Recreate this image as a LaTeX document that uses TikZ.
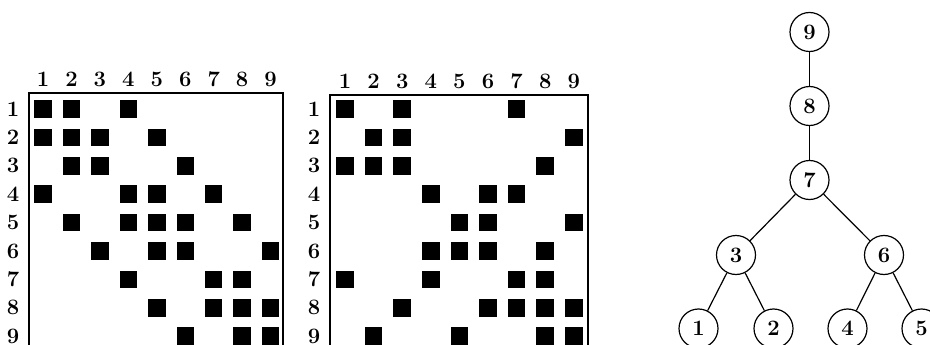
\documentclass[tikz,border=0pt]{standalone}
\usepackage{fontspec}
\begin{document}
\begin{tikzpicture}[x=1pt,y=-1pt,
  lab/.style={font=\fontsize{22}{26}\selectfont\bfseries, inner sep=0pt},
  frame/.style={line width=1.6pt},
  tn/.style={circle, draw, line width=1.2pt, minimum size=39pt, inner sep=0pt, font=\fontsize{22}{26}\selectfont\bfseries},
  edge/.style={line width=1.2pt}]
\useasboundingbox (0,0) rectangle (930,345);
% ---------- matrix 1 ----------
\draw[frame] (29,360) -- (29,93) -- (283,93) -- (283,360);
\foreach \i in {1,...,9} {
  \node[lab] (ca\i) at ({43+28.45*(\i-1)},79) {\i};
  \node[lab] (ra\i) at (13,{109+28.4*(\i-1)}) {\i};
}
\foreach \r/\cols in {1/{1,2,4},2/{1,2,3,5},3/{2,3,6},4/{1,4,5,7},5/{2,4,5,6,8},6/{3,5,6,9},7/{4,7,8},8/{5,7,8,9},9/{6,8,9}} {
  \foreach \c in \cols {
    \fill ({43+28.45*(\c-1)-8.75},{109+28.4*(\r-1)-8.75}) rectangle ++(17.5,17.5);
  }
}
% ---------- matrix 2 ----------
\draw[frame] (330,360) -- (330,95) -- (588,95) -- (588,360);
\foreach \i in {1,...,9} {
  \node[lab] (cb\i) at ({345+28.6*(\i-1)},81) {\i};
  \node[lab] (rb\i) at (314,{109+28.4*(\i-1)}) {\i};
}
\foreach \r/\cols in {1/{1,3,7},2/{2,3,9},3/{1,2,3,8},4/{4,6,7},5/{5,6,9},6/{4,5,6,8},7/{1,4,7,8},8/{3,6,7,8,9},9/{2,5,8,9}} {
  \foreach \c in \cols {
    \fill ({345+28.6*(\c-1)-8.75},{109+28.4*(\r-1)-8.75}) rectangle ++(17.5,17.5);
  }
}
% ---------- tree ----------
\node[tn] (n9) at (809.5,32) {9};
\node[tn] (n8) at (809.5,106) {8};
\node[tn] (n7) at (809.5,180) {7};
\node[tn] (n3) at (736,255) {3};
\node[tn] (n6) at (884,255) {6};
\node[tn] (n1) at (698.5,328.5) {1};
\node[tn] (n2) at (773.5,328.5) {2};
\node[tn] (n4) at (847.5,328.5) {4};
\node[tn] (n5) at (921.5,328.5) {5};
\draw[edge] (n9) -- (n8);
\draw[edge] (n8) -- (n7);
\draw[edge] (n7) -- (n3);
\draw[edge] (n7) -- (n6);
\draw[edge] (n3) -- (n1);
\draw[edge] (n3) -- (n2);
\draw[edge] (n6) -- (n4);
\draw[edge] (n6) -- (n5);
\end{tikzpicture}
\end{document}
